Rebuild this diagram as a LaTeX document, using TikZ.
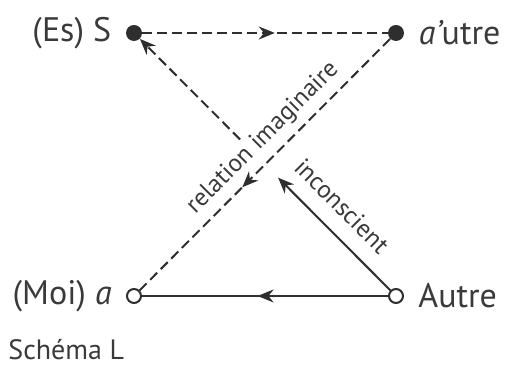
\documentclass[tikz,border=0pt]{standalone}
\usepackage{fontspec}
\setmainfont{PT Sans}
\usepackage{tikz}
\usetikzlibrary{positioning,arrows.meta,calc,decorations.markings}
\definecolor{inkgrey}{HTML}{2E2E2E}
\definecolor{textgrey}{HTML}{3A3A3A}
\tikzset{
  dot/.style={circle,fill=inkgrey,inner sep=0pt,minimum size=8pt},
  hole/.style={circle,draw=inkgrey,line width=1pt,inner sep=0pt,minimum size=7pt},
  lbl/.style={text=textgrey,inner sep=0pt,font=\fontsize{17}{20}\selectfont},
  slanted/.style={text=textgrey,inner sep=0pt,font=\fontsize{12.5}{14}\selectfont},
  link/.style={draw=inkgrey,line width=1pt},
  longdash/.style={dash pattern=on 5pt off 2.5pt},
  tip/.style={-{Stealth[length=8pt,width=6.5pt]}},
  midarrow/.style={postaction={decorate},decoration={markings,
      mark=at position #1 with {\arrow{Stealth[length=8pt,width=6.5pt]}}}}
}

\begin{document}
\begin{tikzpicture}[x=0.5pt,y=-0.5pt]
			\useasboundingbox (0,0) rectangle (505,367);
			
			% the four places
			\node[dot] (S) at (134,33) {};
			\node[dot] (ap) at (396,33) {};
			\node[hole] (a) at (134,296) {};
			\node[hole] (A) at (396,296) {};
			
			\node[lbl,left=7pt of S] (Slbl) {(Es) S};
			\node[lbl,right=7pt of ap] (aplbl) {{\itshape a’}utre};
			\node[lbl,left=7pt of a] (albl) {(Moi) {\itshape a}};
			\node[lbl,right=7pt of A] (Albl) {Autre};
			
			% the break round the crossing
			\coordinate (cutA) at ($(A)!0.45!(S)$);
			\coordinate (cutS) at ($(A)!0.595!(S)$);
			
			\draw[link,longdash,midarrow=0.54] (S) -- (ap);
			\draw[link,midarrow=0.53] (A) -- (a);
			\draw[link,longdash,midarrow=0.59] (ap) -- (a);
			\draw[link,tip] (A) -- (cutA);
			\draw[link,longdash,tip] (cutS) -- (S);
			
			\node[slanted,rotate=45] (imag) at (263,138) {relation imaginaire};
			\node[slanted,rotate=-45] (incs) at (342,206) {inconscient};
			
			\node[lbl,anchor=west,font=\fontsize{14}{16}\selectfont] (title) at (8,350) {Schéma L};
			
		\end{tikzpicture}
\end{document}
